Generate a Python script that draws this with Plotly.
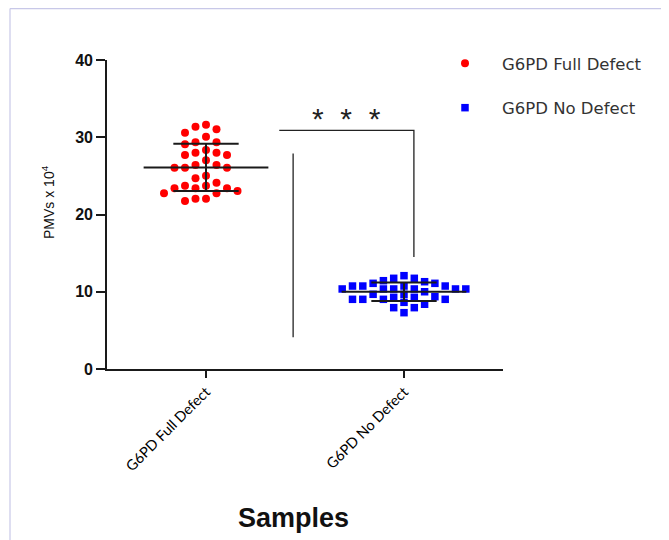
import numpy as np
import plotly.graph_objects as go

# ---------------- data ----------------
categories = ["G6PD Full Defect", "G6PD No Defect"]
series_names = ["G6PD Full Defect", "G6PD No Defect"]

full_defect = [30.59, 29.09, 27.70, 26.06, 24.69, 23.04, 21.75,
               31.37, 29.35, 28.00, 26.06, 23.39, 22.05,
               31.03, 29.35, 27.70, 26.06, 25.02, 23.39, 22.05,
               30.07, 28.35, 26.41, 23.39, 22.74,
               31.62, 28.00, 26.41, 23.73, 22.74,
               27.02, 23.73, 24.12]
no_defect = [11.09, 10.74, 9.67, 10.74, 9.28, 10.36, 9.02,
             11.74, 10.36, 9.02, 11.43, 10.00, 8.63, 7.94,
             11.30, 10.36, 9.36, 8.38, 7.29,
             11.74, 10.36, 9.02, 7.94, 12.08, 10.36, 9.02,
             10.36, 9.28, 10.74, 9.67, 10.74, 11.09]

group_means = [26.1, 10.0]
group_sds = [3.05, 1.2]

y_ticks = [0, 10, 20, 30, 40]

# significance bracket (data units)
bracket_x = [0.37, 1.05]
bracket_top = 30.9
bracket_right_bottom = 14.5
side_line_x = 0.44
side_line_y = [4.1, 27.9]
sig_label = "*  *  *"
sig_pos = [0.71, 32.4]

# ---------------- layout constants (px) ----------------
OFF = 8                      # page body margin of the browser
W, H = 669 - OFF, 540 - OFF
ML, MR, MT, MB = 107 - OFF, 166, 60 - OFF, 171
PW, PH = W - ML - MR, H - MT - MB
XR = [-0.5, 1.5]
YR = [0, 40]
px_per_x = PW / (XR[1] - XR[0])
px_per_y = PH / (YR[1] - YR[0])


def px2paper_x(p):
    return (p - OFF - ML) / PW


def py2paper_y(p):
    return (H - MB - (p - OFF)) / PH


def swarm(values, center, slot_px, min_dy_px):
    """simple greedy beeswarm: place points in horizontal slots around center"""
    order = np.argsort(-np.asarray(values), kind="stable")
    placed = {}
    xs = [0.0] * len(values)
    prefs = [0]
    for k in range(1, 12):
        prefs += [-k, k]
    for i in order:
        yp = values[i] * px_per_y
        for s in prefs:
            if all(abs(yp - q) >= min_dy_px for q in placed.get(s, [])):
                placed.setdefault(s, []).append(yp)
                xs[i] = center + s * slot_px / px_per_x
                break
    return xs


fx = swarm(full_defect, 0, 10.5, 8.5)
nx = swarm(no_defect, 1, 10.3, 8.0)

fig = go.Figure()

fig.add_trace(go.Scatter(
    x=fx, y=full_defect, mode="markers", name=series_names[0],
    legendgroup="a",
    marker=dict(symbol="circle", color="#ff0000", size=8, line=dict(width=0)),
))
fig.add_trace(go.Scatter(
    x=nx, y=no_defect, mode="markers", name=series_names[1],
    legendgroup="b",
    marker=dict(symbol="square", color="#0000ff", size=7.5, line=dict(width=0)),
))

# mean and SD lines
line_style = dict(color="#1a1a1a", width=2)
for i, (m, sd) in enumerate(zip(group_means, group_sds)):
    fig.add_trace(go.Scatter(x=[i - 0.315, i + 0.315], y=[m, m], mode="lines",
                             line=line_style, showlegend=False, hoverinfo="skip"))
    for v in (m - sd, m + sd):
        fig.add_trace(go.Scatter(x=[i - 0.165, i + 0.165], y=[v, v], mode="lines",
                                 line=line_style, showlegend=False, hoverinfo="skip"))
    fig.add_trace(go.Scatter(x=[i, i], y=[m - sd, m + sd], mode="lines",
                             line=line_style, showlegend=False, hoverinfo="skip"))

# significance bracket
br_style = dict(color="#222222", width=1.3)
fig.add_trace(go.Scatter(
    x=[bracket_x[0], bracket_x[1], bracket_x[1]],
    y=[bracket_top, bracket_top, bracket_right_bottom],
    mode="lines", line=br_style, showlegend=False, hoverinfo="skip"))
fig.add_trace(go.Scatter(
    x=[side_line_x, side_line_x], y=side_line_y,
    mode="lines", line=br_style, showlegend=False, hoverinfo="skip"))

fig.add_annotation(x=sig_pos[0], y=sig_pos[1], text=sig_label, showarrow=False,
                   font=dict(family="Liberation Sans", size=30, color="#222"),
                   xanchor="center", yanchor="middle")

# y-axis title
fig.add_annotation(x=px2paper_x(48), y=py2paper_y(202), xref="paper", yref="paper",
                   text="PMVs x 10<sup>4</sup>", textangle=-90, showarrow=False,
                   font=dict(family="Liberation Sans", size=14, color="#111"),
                   xanchor="center", yanchor="middle")

# x-axis title
fig.add_annotation(x=px2paper_x(293), y=py2paper_y(518), xref="paper", yref="paper",
                   text="<b>Samples</b>", showarrow=False,
                   font=dict(family="Liberation Sans", size=27, color="#111"),
                   xanchor="center", yanchor="middle")

# frame lines (light purple)
fig.add_shape(type="line", xref="paper", yref="paper",
              x0=px2paper_x(10), x1=px2paper_x(680), y0=py2paper_y(8.6), y1=py2paper_y(8.6),
              line=dict(color="#c8c8e8", width=1.2))
fig.add_shape(type="line", xref="paper", yref="paper",
              x0=px2paper_x(10), x1=px2paper_x(10), y0=py2paper_y(8.6), y1=py2paper_y(560),
              line=dict(color="#c8c8e8", width=1.2))

fig.update_layout(
    width=W, height=H,
    margin=dict(l=ML, r=MR, t=MT, b=MB, autoexpand=False),
    paper_bgcolor="white", plot_bgcolor="white",
    showlegend=True,
    legend=dict(x=px2paper_x(428), y=py2paper_y(46), xanchor="left", yanchor="top",
                font=dict(family="DejaVu Sans", size=16.5, color="#333"),
                tracegroupgap=20, itemwidth=64, bgcolor="rgba(0,0,0,0)"),
    xaxis=dict(range=XR, tickvals=[0, 1], ticktext=categories, tickangle=-45,
               showline=True, linecolor="#1a1a1a", linewidth=1.6,
               ticks="outside", ticklen=7, tickwidth=1.6, tickcolor="#1a1a1a",
               tickfont=dict(family="Lato", size=14.5, color="#000"),
               showgrid=False, zeroline=False),
    yaxis=dict(range=YR, tickvals=y_ticks,
               showline=True, linecolor="#1a1a1a", linewidth=1.6,
               ticks="outside", ticklen=9, tickwidth=1.6, tickcolor="#1a1a1a",
               tickfont=dict(family="Liberation Sans", size=16, color="#111", weight="bold"),
               showgrid=False, zeroline=False),
)

fig.write_html("out.html")
